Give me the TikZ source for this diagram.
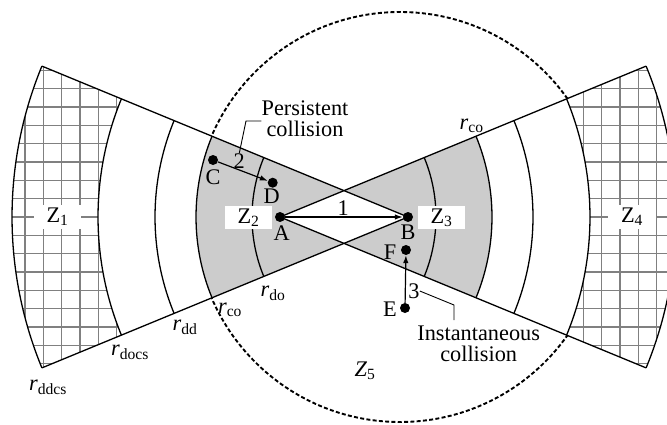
\documentclass[tikz,border=0pt]{standalone}
\usepackage{fontspec}
\setmainfont{Liberation Serif}
\usetikzlibrary{calc,arrows.meta}
\begin{document}
\begin{tikzpicture}[x=1pt,y=1pt,
  every node/.style={font=\fontsize{22.3}{21}\selectfont, inner sep=0pt},
  edge/.style={line width=1.3pt},
  dot/.style={circle, fill=black, minimum size=10pt, inner sep=0pt},
  zbox/.style={fill=white, inner xsep=13pt, inner ysep=3pt},
  arr/.style={line width=1.2pt, -{Latex[length=8pt,width=5.5pt]}},
  leader/.style={line width=0.9pt},
  gridline/.style={line width=1.6pt, draw=black!50}]
\useasboundingbox (0,0) rectangle (667,424);
\coordinate (A) at (280,207);
\coordinate (B) at (408,207);
% dashed circle
\draw[line width=1.9pt, dash pattern=on 4pt off 2.3pt] (400,207) circle[radius=205];
% white wedges
\fill[white] (B) -- ++(157.6:396) arc[start angle=157.6, end angle=202.4, radius=396] -- cycle;
\fill[white] (A) -- ++(-22.4:396) arc[start angle=-22.4, end angle=22.4, radius=396] -- cycle;
% grids
\begin{scope}
  \clip (B) -- ++(157.6:396) arc[start angle=157.6, end angle=202.4, radius=396] -- cycle;
  \foreach \i in {-1,...,9} \draw[gridline] ({25+18.333*\i},0) -- ({25+18.333*\i},424);
  \foreach \j in {-11,...,11} \draw[gridline] (0,{207+18.333*\j}) -- (420,{207+18.333*\j});
\end{scope}
\begin{scope}
  \clip (A) -- ++(-22.4:396) arc[start angle=-22.4, end angle=22.4, radius=396] -- cycle;
  \foreach \i in {-3,...,6} \draw[gridline] ({583.333+18.333*\i},0) -- ({583.333+18.333*\i},424);
  \foreach \j in {-11,...,11} \draw[gridline] (260,{207+18.333*\j}) -- (667,{207+18.333*\j});
\end{scope}
\fill[white] (B) -- ++(157.6:310) arc[start angle=157.6, end angle=202.4, radius=310] -- cycle;
\fill[white] (A) -- ++(-22.4:310) arc[start angle=-22.4, end angle=22.4, radius=310] -- cycle;
% gray zones
\fill[black!20, even odd rule]
  (B) -- ++(157.6:212) arc[start angle=157.6, end angle=202.4, radius=212] -- cycle
  (A) -- ++(-22.4:212) arc[start angle=-22.4, end angle=22.4, radius=212] -- cycle;
% arcs
\foreach \r in {156,212,253,310,396} {
  \draw[edge] (B) ++(157.6:\r) arc[start angle=157.6, end angle=202.4, radius=\r];
  \draw[edge] (A) ++(-22.4:\r) arc[start angle=-22.4, end angle=22.4, radius=\r];
}
% wedge edges
\draw[edge] (B) -- ++(157.6:396);
\draw[edge] (B) -- ++(202.4:396);
\draw[edge] (A) -- ++(22.4:396);
\draw[edge] (A) -- ++(-22.4:396);
% zone labels
\node[zbox] (z1) at (57.5,207) {Z\textsubscript{1}};
\node[zbox] (z2) at (248.5,206.5) {Z\textsubscript{2}};
\node[zbox] (z3) at (441.5,206.5) {Z\textsubscript{3}};
\node[zbox] (z4) at (632,207) {Z\textsubscript{4}};
\node (z5) at (365,53) {\textit{Z}\textsubscript{5}};
% dots
\node[dot] (dA) at (A) {};
\node[dot] (dB) at (B) {};
\node[dot] (dC) at (213,264) {};
\node[dot] (dD) at (272.7,241.3) {};
\node[dot] (dE) at (405,116) {};
\node[dot] (dF) at (406,174) {};
\node (tA) at (281.7,191.3) {A};
\node (tB) at (408,191.3) {B};
\node (tC) at (213,247) {C};
\node (tD) at (271.7,227.3) {D};
\node (tE) at (390,115) {E};
\node (tF) at (390,172) {F};
% arrows
\draw[arr] (dA) -- (dB);
\draw[arr] (dC) -- (dD);
\draw[arr] (dE) -- (dF);
\node (n1) at (343.3,215.7) {1};
\node (n2) at (239.3,263.3) {2};
\node (n3) at (414,133) {3};
% callouts
\node[align=center] (pc) at (305,305) {Persistent\\collision};
\coordinate (l2a) at (246,303);
\draw[leader] (n2.north) -- (l2a) -- (l2a -| pc.west);
\node[align=center] (ic) at (478.7,80.3) {Instantaneous\\collision};
\coordinate (l3a) at (454,119);
\coordinate (l3b) at (454,104);
\draw[leader] (n3.east) -- (l3a) -- (l3b);
% radius labels
\node (rco1) at (471.7,298) {\textit{r}\textsubscript{co}};
\node (rdo) at (273,131) {\textit{r}\textsubscript{do}};
\node (rco2) at (230,114) {\textit{r}\textsubscript{co}};
\node (rdd) at (185,97) {\textit{r}\textsubscript{dd}};
\node (rdocs) at (130,72) {\textit{r}\textsubscript{docs}};
\node (rddcs) at (48,37) {\textit{r}\textsubscript{ddcs}};
\end{tikzpicture}
\end{document}
